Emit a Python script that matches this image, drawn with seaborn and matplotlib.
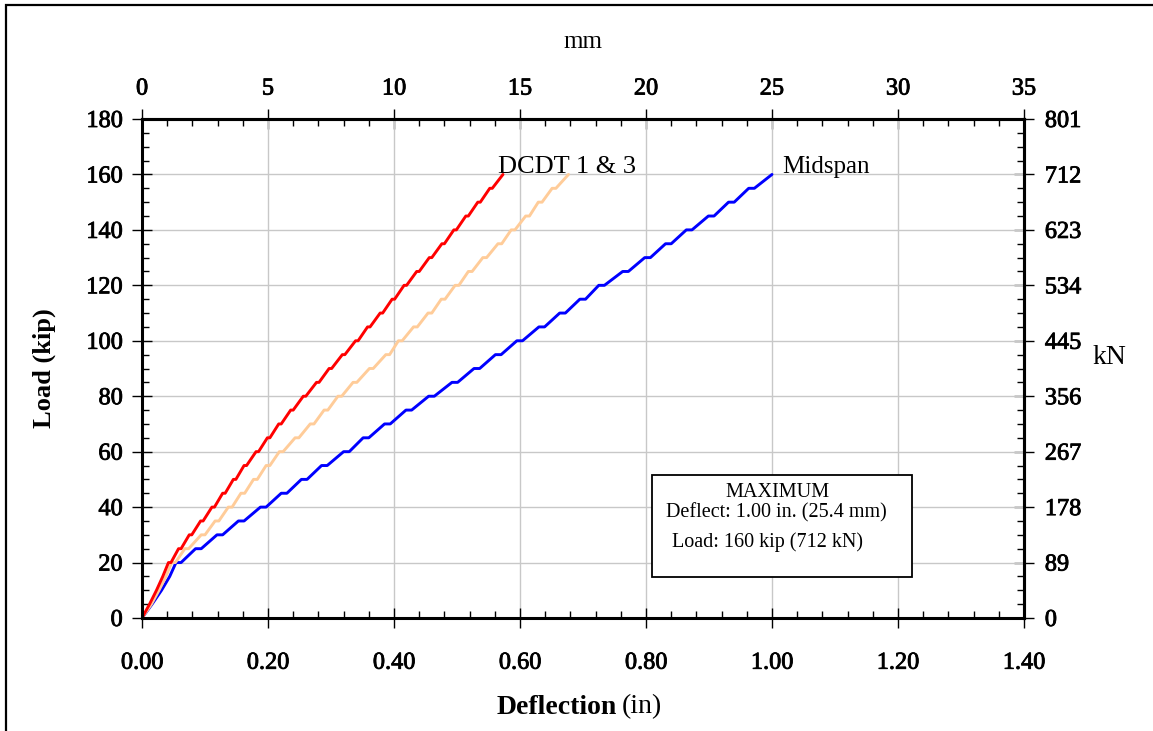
import matplotlib
matplotlib.use('Agg')
import matplotlib.pyplot as plt
import matplotlib.patheffects as pe
import seaborn as sns
import pandas as pd
from matplotlib.ticker import MultipleLocator, FixedLocator, FormatStrFormatter
from matplotlib.patches import Rectangle

# ---------------- data ----------------
load_kip = [0, 5, 10, 15,
            20, 20, 25, 25, 30, 30, 35, 35, 40, 40, 45, 45, 50, 50, 55, 55,
            60, 60, 65, 65, 70, 70, 75, 75, 80, 80, 85, 85, 90, 90, 95, 95,
            100, 100, 105, 105, 110, 110, 115, 115, 120, 120, 125, 125,
            130, 130, 135, 135, 140, 140, 145, 145, 150, 150, 155, 155,
            160]

dcdt_red = [0, 0.012, 0.023, 0.033,
            0.042, 0.046, 0.058, 0.062, 0.075, 0.079, 0.093, 0.097, 0.111, 0.115,
            0.128, 0.132, 0.145, 0.149, 0.162, 0.166, 0.181, 0.185, 0.199, 0.203,
            0.217, 0.221, 0.236, 0.240, 0.256, 0.260, 0.277, 0.281, 0.297, 0.301,
            0.318, 0.322, 0.339, 0.343, 0.358, 0.362, 0.378, 0.382, 0.397, 0.401,
            0.416, 0.420, 0.436, 0.440, 0.456, 0.460, 0.476, 0.480, 0.495, 0.499,
            0.514, 0.518, 0.533, 0.537, 0.552, 0.556, 0.573]

dcdt_peach = [0, 0.015, 0.027, 0.038,
              0.047, 0.053, 0.068, 0.074, 0.094, 0.100, 0.116, 0.122, 0.137, 0.143,
              0.157, 0.163, 0.177, 0.183, 0.197, 0.203, 0.218, 0.224, 0.243, 0.249,
              0.267, 0.273, 0.289, 0.295, 0.311, 0.317, 0.335, 0.341, 0.361, 0.367,
              0.387, 0.393, 0.407, 0.413, 0.431, 0.437, 0.454, 0.460, 0.475, 0.481,
              0.497, 0.503, 0.518, 0.524, 0.541, 0.547, 0.565, 0.571, 0.586, 0.592,
              0.609, 0.615, 0.629, 0.635, 0.651, 0.657, 0.677]

midspan = [0, 0.016, 0.031, 0.044,
           0.054, 0.062, 0.085, 0.094, 0.119, 0.128, 0.153, 0.162, 0.188, 0.197,
           0.221, 0.230, 0.253, 0.262, 0.285, 0.294, 0.320, 0.329, 0.351, 0.360,
           0.385, 0.394, 0.419, 0.428, 0.455, 0.464, 0.492, 0.501, 0.527, 0.536,
           0.561, 0.570, 0.595, 0.604, 0.630, 0.639, 0.663, 0.672, 0.695, 0.704,
           0.725, 0.734, 0.763, 0.772, 0.798, 0.807, 0.831, 0.840, 0.864, 0.873,
           0.899, 0.908, 0.931, 0.940, 0.963, 0.972, 1.000]

series_names = ["Midspan", "DCDT 3", "DCDT 1"]
series_values = [midspan, dcdt_peach, dcdt_red]
series_colors = {"Midspan": "#0000FF", "DCDT 3": "#FFCC99", "DCDT 1": "#FF0000"}

x_ticks_in = [0.0, 0.2, 0.4, 0.6, 0.8, 1.0, 1.2, 1.4]
y_ticks_kip = [0, 20, 40, 60, 80, 100, 120, 140, 160, 180]
top_ticks_mm = [0, 5, 10, 15, 20, 25, 30, 35]
right_ticks_kn = [0, 89, 178, 267, 356, 445, 534, 623, 712, 801]

# ---------------- style ----------------
sns.set_style("ticks")
plt.rcParams['font.family'] = ['Liberation Serif', 'DejaVu Serif']
for k in ['text.color', 'axes.labelcolor', 'xtick.color', 'ytick.color', 'axes.edgecolor']:
    plt.rcParams[k] = 'black'

heavy = [pe.withStroke(linewidth=0.6, foreground='black')]

rows = []
for name, vals in zip(series_names, series_values):
    for i, (d, l) in enumerate(zip(vals, load_kip)):
        rows.append({"Series": name, "Deflection": d, "Load": l, "idx": i})
df = pd.DataFrame(rows)

W, H = 1153, 731
fig = plt.figure(figsize=(W / 100, H / 100), dpi=100)
ax = fig.add_axes([142 / W, 1 - 618 / H, (1024 - 142) / W, (618 - 119) / H])

sns.lineplot(data=df, x="Deflection", y="Load", hue="Series", palette=series_colors,
             hue_order=series_names, sort=False, estimator=None, legend=False,
             linewidth=2.1, ax=ax)

ax.set_xlim(0, 1.4)
ax.set_ylim(0, 180)
ax.xaxis.set_major_locator(FixedLocator(x_ticks_in))
ax.xaxis.set_major_formatter(FormatStrFormatter('%.2f'))
ax.xaxis.set_minor_locator(MultipleLocator(0.04))
ax.yaxis.set_major_locator(FixedLocator(y_ticks_kip))
ax.yaxis.set_minor_locator(MultipleLocator(5))
ax.grid(True, which='major', color='#C8C8C8', linewidth=1.0)
ax.set_axisbelow(True)
for s in ax.spines.values():
    s.set_visible(True)
    s.set_linewidth(2.2)
    s.set_color('black')

tick_fs = 17.5
ax.tick_params(which='major', direction='inout', length=14, width=1.0, labelsize=tick_fs)
ax.tick_params(axis='x', which='major', pad=18)
ax.tick_params(axis='y', which='major', pad=7)
ax.tick_params(which='minor', direction='in', length=5, width=1.0)
ax.set_xlabel("")
ax.set_ylabel("Load (kip)", fontsize=19, fontweight='bold', labelpad=22)

# top axis (mm)
secx = ax.secondary_xaxis('top', functions=(lambda x: x * 25.0, lambda x: x / 25.0))
secx.xaxis.set_major_locator(FixedLocator(top_ticks_mm))
secx.xaxis.set_minor_locator(MultipleLocator(1))
secx.tick_params(which='major', direction='inout', length=14, width=1.0, labelsize=tick_fs, pad=7)
secx.tick_params(which='minor', direction='in', length=5, width=1.0)
secx.spines['top'].set_linewidth(2.2)
secx.set_xlabel("mm", fontsize=18, labelpad=22)

# right axis (kN)
secy = ax.secondary_yaxis('right', functions=(lambda y: y * 4.45, lambda y: y / 4.45))
secy.yaxis.set_major_locator(FixedLocator(right_ticks_kn))
secy.yaxis.set_minor_locator(MultipleLocator(22.25))
secy.tick_params(which='major', direction='inout', length=14, width=1.0, labelsize=tick_fs, pad=8)
secy.tick_params(which='minor', direction='in', length=5, width=1.0)
secy.spines['right'].set_linewidth(2.2)

fig.text(1109 / W, 1 - 357 / H, "kN", fontsize=20, ha='center', va='center')

# bottom label: bold part + regular part
fig.text(617 / W, 1 - 707 / H, "Deflection", fontsize=20, fontweight='bold', ha='right', va='center')
fig.text(622 / W, 1 - 707 / H, "(in)", fontsize=20, ha='left', va='center')

# curve labels
ax.text(0.565, 160.4, "DCDT 1 & 3", fontsize=19, ha='left', va='baseline')
ax.text(1.016, 160.4, "Midspan", fontsize=18, ha='left', va='baseline')

# maximum box
ax.add_patch(Rectangle((0.578, 0.082), 0.295, 0.2046, transform=ax.transAxes,
                       facecolor='white', edgecolor='black', linewidth=1.3, zorder=5))
ax.text(0.72, 0.2525, "MAXIMUM", transform=ax.transAxes, fontsize=14.6, ha='center', va='center', zorder=6)
ax.text(0.594, 0.21, "Deflect: 1.00 in. (25.4 mm)", transform=ax.transAxes, fontsize=14.5,
        ha='left', va='center', zorder=6)
ax.text(0.601, 0.152, "Load: 160 kip (712 kN)", transform=ax.transAxes, fontsize=14.5,
        ha='left', va='center', zorder=6)

# slightly heavier tick numbers, as in the reference
for axis in [ax.xaxis, ax.yaxis, secx.xaxis, secy.yaxis]:
    for lbl in axis.get_ticklabels():
        lbl.set_path_effects(heavy)

# outer frame
fig.patches.append(Rectangle((6 / W, -0.1), 1.2, 1.1 - 5 / H, transform=fig.transFigure,
                             fill=False, edgecolor='black', linewidth=1.6))

fig.savefig("out.png", dpi=100)
